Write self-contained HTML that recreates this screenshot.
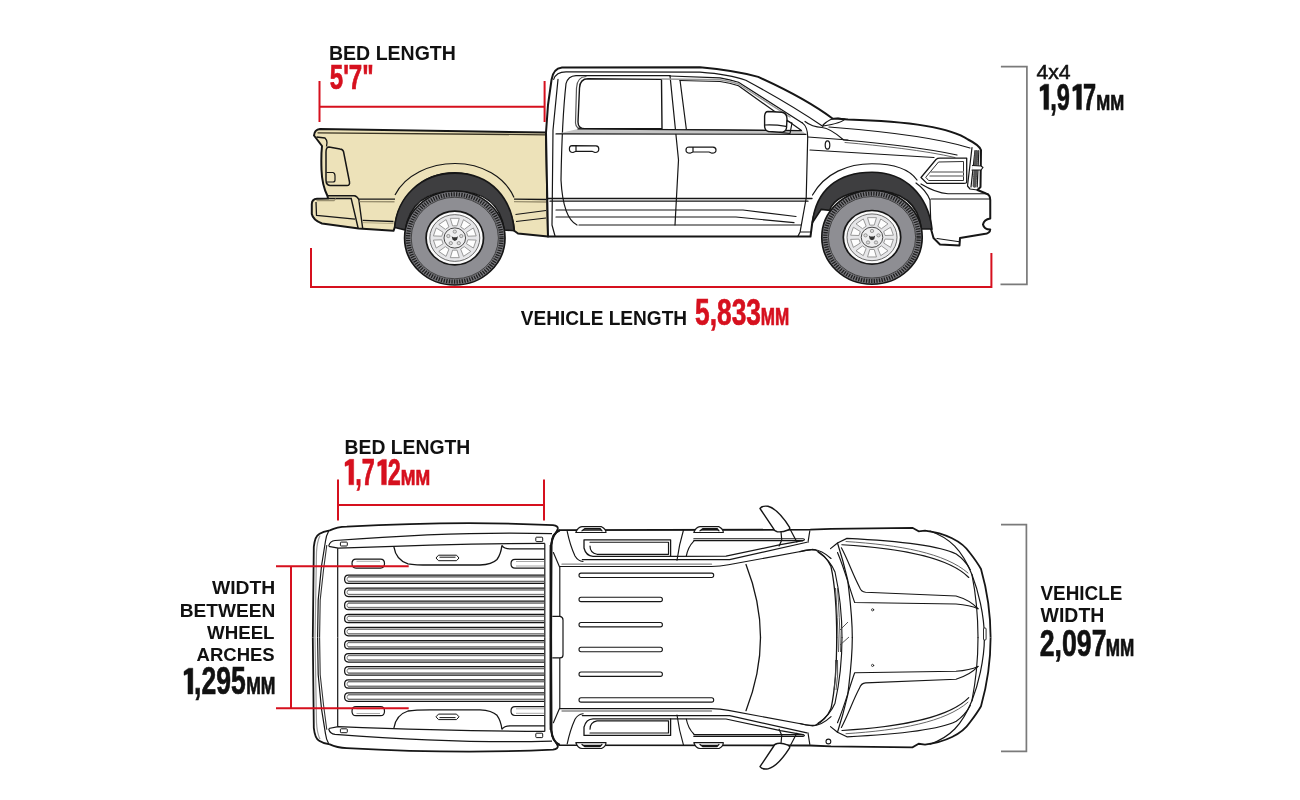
<!DOCTYPE html>
<html><head><meta charset="utf-8"><style>
html,body{margin:0;padding:0;background:#fff;width:1300px;height:800px;overflow:hidden}
svg{display:block;will-change:transform}
text{font-family:"Liberation Sans", sans-serif;font-kerning:none}
</style></head><body>
<svg width="1300" height="800" viewBox="0 0 1300 800">
<rect width="1300" height="800" fill="#fff"/>
<text x="328.99" y="59.60" font-size="20.06" font-weight="bold" textLength="126.92" lengthAdjust="spacingAndGlyphs" fill="#111" >BED LENGTH</text>
<text x="329.76" y="88.50" font-size="34.74" font-weight="bold" textLength="43.93" lengthAdjust="spacingAndGlyphs" fill="#d6101e" stroke="#d6101e" stroke-width="0.7">5'7"</text>
<text x="1036.41" y="78.80" font-size="19.48" font-weight="normal" textLength="34.21" lengthAdjust="spacingAndGlyphs" fill="#111" stroke="#111" stroke-width="0.5">4x4</text>
<path d="M1044.58,84.20 L1048.67,84.20 L1048.67,109.60 L1043.88,109.60 L1043.88,89.78 L1040.40,91.17 Q1040.00,91.27 1040.00,90.77 L1040.00,87.79 Q1040.00,87.19 1040.60,86.89 Z" fill="#111" stroke="#111" stroke-width="0.42" stroke-linejoin="round"/>
<path d="M1077.35,84.20 L1081.44,84.20 L1081.44,109.60 L1076.66,109.60 L1076.66,89.78 L1073.17,91.17 Q1072.77,91.27 1072.77,90.77 L1072.77,87.79 Q1072.77,87.19 1073.37,86.89 Z" fill="#111" stroke="#111" stroke-width="0.42" stroke-linejoin="round"/><text x="1050.20" y="109.60" font-size="36.92" font-weight="bold" textLength="45.83" lengthAdjust="spacingAndGlyphs" fill="#111" stroke="#111" stroke-width="0.7">,9 7</text>
<text x="1096.18" y="109.60" font-size="22.97" font-weight="bold" textLength="27.94" lengthAdjust="spacingAndGlyphs" fill="#111" stroke="#111" stroke-width="0.7">MM</text>
<text x="520.77" y="324.50" font-size="19.62" font-weight="bold" textLength="166.32" lengthAdjust="spacingAndGlyphs" fill="#111" >VEHICLE LENGTH</text>
<text x="695.09" y="324.60" font-size="37.79" font-weight="bold" textLength="65.86" lengthAdjust="spacingAndGlyphs" fill="#d6101e" stroke="#d6101e" stroke-width="0.7">5,833</text>
<text x="760.86" y="324.60" font-size="23.40" font-weight="bold" textLength="28.49" lengthAdjust="spacingAndGlyphs" fill="#d6101e" stroke="#d6101e" stroke-width="0.7">MM</text>
<text x="344.51" y="453.70" font-size="20.20" font-weight="bold" textLength="125.80" lengthAdjust="spacingAndGlyphs" fill="#111" >BED LENGTH</text>
<path d="M349.60,459.30 L353.70,459.30 L353.70,484.80 L348.90,484.80 L348.90,464.90 L345.40,466.30 Q345.00,466.40 345.00,465.90 L345.00,462.90 Q345.00,462.30 345.60,462.00 Z" fill="#d6101e" stroke="#d6101e" stroke-width="0.42" stroke-linejoin="round"/>
<path d="M382.30,459.40 L386.38,459.40 L386.38,484.80 L381.60,484.80 L381.60,464.98 L378.12,466.37 Q377.72,466.47 377.72,465.97 L377.72,462.99 Q377.72,462.39 378.32,462.09 Z" fill="#d6101e" stroke="#d6101e" stroke-width="0.42" stroke-linejoin="round"/><text x="355.21" y="484.80" font-size="36.92" font-weight="bold" textLength="45.74" lengthAdjust="spacingAndGlyphs" fill="#d6101e" stroke="#d6101e" stroke-width="0.7">,7 2</text>
<text x="400.82" y="484.80" font-size="22.67" font-weight="bold" textLength="29.36" lengthAdjust="spacingAndGlyphs" fill="#d6101e" stroke="#d6101e" stroke-width="0.7">MM</text>
<text x="211.98" y="594.00" font-size="18.90" font-weight="bold" textLength="63.32" lengthAdjust="spacingAndGlyphs" fill="#111" >WIDTH</text>
<text x="179.72" y="616.60" font-size="18.31" font-weight="bold" textLength="95.57" lengthAdjust="spacingAndGlyphs" fill="#111" >BETWEEN</text>
<text x="206.98" y="639.00" font-size="18.90" font-weight="bold" textLength="67.59" lengthAdjust="spacingAndGlyphs" fill="#111" >WHEEL</text>
<text x="196.54" y="661.00" font-size="18.90" font-weight="bold" textLength="78.18" lengthAdjust="spacingAndGlyphs" fill="#111" >ARCHES</text>
<path d="M188.65,668.20 L192.80,668.20 L192.80,694.00 L187.95,694.00 L187.95,673.87 L184.40,675.28 Q184.00,675.38 184.00,674.88 L184.00,671.84 Q184.00,671.24 184.61,670.93 Z" fill="#111" stroke="#111" stroke-width="0.42" stroke-linejoin="round"/>
<text x="194.10" y="694.20" font-size="37.94" font-weight="bold" textLength="51.64" lengthAdjust="spacingAndGlyphs" fill="#111" stroke="#111" stroke-width="0.7">,295</text>
<text x="246.13" y="694.20" font-size="23.98" font-weight="bold" textLength="29.25" lengthAdjust="spacingAndGlyphs" fill="#111" stroke="#111" stroke-width="0.7">MM</text>
<text x="1040.47" y="599.60" font-size="19.77" font-weight="bold" textLength="81.87" lengthAdjust="spacingAndGlyphs" fill="#111" >VEHICLE</text>
<text x="1040.58" y="622.00" font-size="19.33" font-weight="bold" textLength="63.73" lengthAdjust="spacingAndGlyphs" fill="#111" >WIDTH</text>
<text x="1039.78" y="655.70" font-size="37.65" font-weight="bold" textLength="66.70" lengthAdjust="spacingAndGlyphs" fill="#111" stroke="#111" stroke-width="0.7">2,097</text>
<text x="1105.76" y="655.70" font-size="23.55" font-weight="bold" textLength="28.49" lengthAdjust="spacingAndGlyphs" fill="#111" stroke="#111" stroke-width="0.7">MM</text>
<path d="M314,135.5 Q314.5,129.5 320,129 L546,132.5 L548,236.5 L518,233.5 L514.2,230.7 C512,205 490,174 455,173 C420,173 398,200 394.7,227.5 L393.5,230.8 L358.8,228.5 L322,223.5 Q313,220 311.8,214 L311.8,204 Q312,199 317,198.8 L328,198.5 L327.5,196 Q322,185 321.5,170 Q321,155 322,146 Q319,142 314,135.5 Z" fill="#ede2b9" stroke="#161616" stroke-width="2" stroke-linejoin="round"/>
<g fill="none" stroke="#161616" stroke-width="1.2" stroke-linejoin="round">
<path d="M317.5,132.8 Q330,133 546,134.8" stroke="#3a3424" stroke-width="1.3"/><path d="M316.5,137 L325,138 Q327,140 327,142.5 L326.5,146.5" stroke-width="1.3"/>
<path d="M329,147 Q326,147 326,152 L326,180 Q326,185 330,185.5 L347,185.5 Q350,185.5 349.5,182 L343.5,151.5 Q343,149.4 340,149 Z" stroke-width="1.5"/>
<path d="M326.5,172.5 L333,172.5 Q335,173 335,176 L335,180 Q335,182 333,182 L327,182"/>
<path d="M328,198.5 L351.9,198.5 M327.5,195.8 L354.2,195.8 Q357,196 358.8,199.5 L362.7,228.5 M351.2,198.5 L358.1,228" stroke-width="1.4"/>
<path d="M358.8,199.2 L395,199.2" stroke-width="1.3"/><path d="M359.5,201.6 L394.5,201.8" stroke="#9a9070" stroke-width="1.4"/>
<path d="M362.7,220.4 L393.5,221.5" stroke-width="1.3"/><path d="M363,222.6 L393.5,223.6" stroke="#b5ab85" stroke-width="1"/>
<path d="M316,202 L316.5,215.4 L355,219.2" stroke-width="1.3"/>
<path d="M316.5,200.6 L334,200.6 L335.8,198.6" stroke="#9a9070" stroke-width="1.2"/>
<path d="M395,195 C405,175 430,163.5 455,163.5 C482,163.5 505,177 514,197.6"/>
<path d="M514,199.2 L546,199.5" stroke-width="1.3"/><path d="M514,201.7 L546,202" stroke="#9a9070" stroke-width="1.3"/>
<path d="M515.5,214.5 L546,210.5 M516,221.5 L546,218"/>
</g>
<path d="M394.7,227.5 C397,198 420,173.1 455,173.1 C492,173.1 512,200 514.2,230.7 L504.3,230 C500,200 480,191.2 454.8,191.2 C430,191.2 410,200 405.3,230 Z" fill="#3e3e40" stroke="#161616" stroke-width="1.6"/>
<path d="M546,132.5 L548,105 L551.5,80 Q553,68.5 562,67.5 L700,67.3 Q735,70.5 758.2,76.9 Q805,98 832.8,118.7 L838,118.8 L848,119.4 C905,121 950,127 968,139.5 Q979,145 981,150 L980.5,187 L977.5,190 L986,193.5 Q990.25,194.5 990.25,200 L990.25,218.5 Q984,219.5 983,224.5 Q984,229.5 990.25,229.5 Q990,233.5 984,234 L960,238 L959.5,245.5 L940,244.5 L933.5,238 L931,229 C926,200 905,173 872,173 C840,173 817,195 812.3,222.5 L810.5,236.5 L548,236.5 Z" fill="#fff" stroke="#161616" stroke-width="2" stroke-linejoin="round"/>
<g fill="none" stroke="#161616" stroke-width="1.2" stroke-linejoin="round" stroke-linecap="round">
<path d="M553.7,79.4 Q556,72 566,71.9 L700,72.2 Q730,74.5 745.8,80.3 Q790,104 822.7,126.3"/>
<path d="M805,121.5 Q812,127 822,127.5 Q830,128 843.7,140 C880,143 925,148 957,155 M829,127 C880,131 935,137 970,148"/>
<path d="M845,142.5 C880,145.5 925,150.5 955,157.5" stroke="#555" stroke-width="0.9"/>
<path d="M558,79.4 L553,130 L552,225 L555,236"/>
<path d="M566,83.7 Q568,76 576,75.6 L670,75.6 M566,83.7 Q562,120 561,180 Q563,218 577,225"/>
<path d="M588,78.8 Q580,78.8 579.5,88 L578,122 Q578,128.7 585,128.7 L662,128.7 L661.5,79.4 Z" stroke-width="1.4"/>
<path d="M586,76.5 Q577,77 576.5,88 L575.5,123 Q576,128.9 582,128.9" stroke="#555"/>
<path d="M670,75.6 L678.5,160 L675,225"/>
<path d="M680,80 L686.5,130.5"/>
<path d="M680,80.5 L720,81.5 Q730,83 738.5,85.8 L801.5,130.6 L686,129.6"/>
<path d="M670,76 L720,77.8 Q730,79.5 738.5,82.2 L802.4,122.9"/><path d="M662,79 L720,79.7 Q730,81.2 738.5,84 L790,117" stroke="#999" stroke-width="1.4"/>
<path d="M802.4,122.9 Q807.7,127 807.7,137 L806.2,198 L800.1,231.9 L797.8,236.5 M800.1,232 L810.5,232"/>
<path d="M578,128.9 L801.5,130.6 L806,134.3 L556,133.9 Z" fill="#c4c4c4" stroke="none"/>
<path d="M556,133.9 L806,134.3 M578,128.9 L801.5,130.6 M808,137 L848,140"/>
<path d="M810,150 L934,157.5"/>
<path d="M572,145.6 L596,145.8 Q598.8,146 598.8,149 Q598.8,152.5 595,152.5 L592,151.3 L576,151.3 L573,152.5 Q569.4,152.5 569.4,149 Q569.4,145.6 572,145.6 Z M576,145.7 L576,151.3"/>
<path d="M689,147 L713,147.2 Q716,147.5 716,150 Q716,153.2 712,153.2 L709,152 L693,152 L690,153.2 Q686,153.2 686,150 Q686,147 689,147 Z M693,147.2 L693,152"/>
<path d="M768,111.5 L782,112.2 Q787,113 787,119 L786.5,128 Q786,132.3 780,132.3 L768.5,131.5 Q764.6,130.5 764.6,126 L764.6,116 Q765,111.5 768,111.5 Z" fill="#fff" stroke-width="1.4"/>
<path d="M765,125 Q775,124.5 786,126.3 M787,121 L792,123 L790,133.5 L780,132.3"/>
<path d="M548,198.5 L812,198.5 M550,201.2 L808,201.2" stroke-width="1.3"/>
<path d="M556,210 L743,210 L796,216.5 M556,217 L736,217 L794,222.7 M579,225 L800.8,225"/>
<ellipse cx="827.5" cy="145" rx="2.3" ry="4.2"/>
<path d="M823,125 Q830,118 838,118 L845,119 Q842,123 823,126 Z"/>
<path d="M812.5,195 C825,173 848,163.75 872,163.75 C895,163.75 910,170 917,180"/>
<path d="M921,177.5 L936,159.5 Q937.4,158.2 940,158.2 L966.7,158.2 L966.7,182 Q966.5,183.4 964,183.4 L927,183.4 Z" stroke-width="1.3"/>
<path d="M926,177 L938.5,162 L963.5,161.5 L963.5,180.5 L929,180.5 Z" stroke-width="0.9"/>
<path d="M931,172 L963.5,172 M930,176 L963.5,176" stroke="#888" stroke-width="1.4"/>
<path d="M972,147.5 L967.5,186 L970,189 L977.5,190 M975,150.5 L971,187 M978.8,150.5 L977.2,187" stroke-width="1.2"/>
<path d="M976.5,152 L974.5,186" stroke="#555" stroke-width="4" stroke-dasharray="0.8 1.4"/>
<path d="M972.5,165.5 L981,166 L983,167.5 L981,170 L972,170" fill="#fff" stroke-width="1.1"/>
<path d="M916,183 Q926,190 930,200 L931,229 M921,184 Q936,193 948,193.75 L988,193.75 M931,199 L990,199 M937,238.5 L959.5,241.75"/>
</g>
<path d="M812.5,222.5 C816,190 838,172.3 872,172.3 C905,172.3 928,195 932,229 L921.4,229 C918,200 898,190.6 872,190.6 C848,190.6 833,200 829.7,210.3 L821.2,209.4 Z" fill="#3e3e40" stroke="#161616" stroke-width="1.6"/>
<g transform="translate(454.8,238) scale(1,0.935)"><circle r="50.2" fill="#7a7a7f" stroke="#161616" stroke-width="1.7"/><circle r="46.7" fill="none" stroke="#1e1e1e" stroke-width="4.4" stroke-dasharray="1.3 1.3"/><circle r="43.6" fill="#8e8e93" stroke="#3a3a3a" stroke-width="0.9"/><circle r="28.7" fill="#fafafa" stroke="#161616" stroke-width="1.7"/><circle r="25" fill="#e6e6e8" stroke="#555" stroke-width="0.9"/><path d="M-2.23,-13.01 L-4.48,-21.03 L4.48,-21.03 L2.23,-13.01Z" fill="#fdfdfd" stroke="#8a8a8a" stroke-width="0.9" stroke-linejoin="round"/><path d="M5.84,-11.84 L8.73,-19.65 L15.99,-14.38 L9.45,-9.21Z" fill="#fdfdfd" stroke="#8a8a8a" stroke-width="0.9" stroke-linejoin="round"/><path d="M11.68,-6.14 L18.61,-10.76 L21.38,-2.24 L13.06,-1.90Z" fill="#fdfdfd" stroke="#8a8a8a" stroke-width="0.9" stroke-linejoin="round"/><path d="M13.06,1.90 L21.38,2.24 L18.61,10.76 L11.68,6.14Z" fill="#fdfdfd" stroke="#8a8a8a" stroke-width="0.9" stroke-linejoin="round"/><path d="M9.45,9.21 L15.99,14.38 L8.73,19.65 L5.84,11.84Z" fill="#fdfdfd" stroke="#8a8a8a" stroke-width="0.9" stroke-linejoin="round"/><path d="M2.23,13.01 L4.48,21.03 L-4.48,21.03 L-2.23,13.01Z" fill="#fdfdfd" stroke="#8a8a8a" stroke-width="0.9" stroke-linejoin="round"/><path d="M-5.84,11.84 L-8.73,19.65 L-15.99,14.38 L-9.45,9.21Z" fill="#fdfdfd" stroke="#8a8a8a" stroke-width="0.9" stroke-linejoin="round"/><path d="M-11.68,6.14 L-18.61,10.76 L-21.38,2.24 L-13.06,1.90Z" fill="#fdfdfd" stroke="#8a8a8a" stroke-width="0.9" stroke-linejoin="round"/><path d="M-13.06,-1.90 L-21.38,-2.24 L-18.61,-10.76 L-11.68,-6.14Z" fill="#fdfdfd" stroke="#8a8a8a" stroke-width="0.9" stroke-linejoin="round"/><path d="M-9.45,-9.21 L-15.99,-14.38 L-8.73,-19.65 L-5.84,-11.84Z" fill="#fdfdfd" stroke="#8a8a8a" stroke-width="0.9" stroke-linejoin="round"/><circle r="10.8" fill="#eeeeef" stroke="#444" stroke-width="1"/><circle cx="0.00" cy="-6.80" r="1.7" fill="#ddd" stroke="#777" stroke-width="0.7"/><circle cx="6.47" cy="-2.10" r="1.7" fill="#ddd" stroke="#777" stroke-width="0.7"/><circle cx="4.00" cy="5.50" r="1.7" fill="#ddd" stroke="#777" stroke-width="0.7"/><circle cx="-4.00" cy="5.50" r="1.7" fill="#ddd" stroke="#777" stroke-width="0.7"/><circle cx="-6.47" cy="-2.10" r="1.7" fill="#ddd" stroke="#777" stroke-width="0.7"/><path d="M-3.2,-2 Q0,0.5 3.2,-2 L2.2,2 L0,3.2 L-2.2,2 Z" fill="#333"/></g>
<g transform="translate(872,237.3) scale(1,0.935)"><circle r="50.2" fill="#7a7a7f" stroke="#161616" stroke-width="1.7"/><circle r="46.7" fill="none" stroke="#1e1e1e" stroke-width="4.4" stroke-dasharray="1.3 1.3"/><circle r="43.6" fill="#8e8e93" stroke="#3a3a3a" stroke-width="0.9"/><circle r="28.7" fill="#fafafa" stroke="#161616" stroke-width="1.7"/><circle r="25" fill="#e6e6e8" stroke="#555" stroke-width="0.9"/><path d="M-2.23,-13.01 L-4.48,-21.03 L4.48,-21.03 L2.23,-13.01Z" fill="#fdfdfd" stroke="#8a8a8a" stroke-width="0.9" stroke-linejoin="round"/><path d="M5.84,-11.84 L8.73,-19.65 L15.99,-14.38 L9.45,-9.21Z" fill="#fdfdfd" stroke="#8a8a8a" stroke-width="0.9" stroke-linejoin="round"/><path d="M11.68,-6.14 L18.61,-10.76 L21.38,-2.24 L13.06,-1.90Z" fill="#fdfdfd" stroke="#8a8a8a" stroke-width="0.9" stroke-linejoin="round"/><path d="M13.06,1.90 L21.38,2.24 L18.61,10.76 L11.68,6.14Z" fill="#fdfdfd" stroke="#8a8a8a" stroke-width="0.9" stroke-linejoin="round"/><path d="M9.45,9.21 L15.99,14.38 L8.73,19.65 L5.84,11.84Z" fill="#fdfdfd" stroke="#8a8a8a" stroke-width="0.9" stroke-linejoin="round"/><path d="M2.23,13.01 L4.48,21.03 L-4.48,21.03 L-2.23,13.01Z" fill="#fdfdfd" stroke="#8a8a8a" stroke-width="0.9" stroke-linejoin="round"/><path d="M-5.84,11.84 L-8.73,19.65 L-15.99,14.38 L-9.45,9.21Z" fill="#fdfdfd" stroke="#8a8a8a" stroke-width="0.9" stroke-linejoin="round"/><path d="M-11.68,6.14 L-18.61,10.76 L-21.38,2.24 L-13.06,1.90Z" fill="#fdfdfd" stroke="#8a8a8a" stroke-width="0.9" stroke-linejoin="round"/><path d="M-13.06,-1.90 L-21.38,-2.24 L-18.61,-10.76 L-11.68,-6.14Z" fill="#fdfdfd" stroke="#8a8a8a" stroke-width="0.9" stroke-linejoin="round"/><path d="M-9.45,-9.21 L-15.99,-14.38 L-8.73,-19.65 L-5.84,-11.84Z" fill="#fdfdfd" stroke="#8a8a8a" stroke-width="0.9" stroke-linejoin="round"/><circle r="10.8" fill="#eeeeef" stroke="#444" stroke-width="1"/><circle cx="0.00" cy="-6.80" r="1.7" fill="#ddd" stroke="#777" stroke-width="0.7"/><circle cx="6.47" cy="-2.10" r="1.7" fill="#ddd" stroke="#777" stroke-width="0.7"/><circle cx="4.00" cy="5.50" r="1.7" fill="#ddd" stroke="#777" stroke-width="0.7"/><circle cx="-4.00" cy="5.50" r="1.7" fill="#ddd" stroke="#777" stroke-width="0.7"/><circle cx="-6.47" cy="-2.10" r="1.7" fill="#ddd" stroke="#777" stroke-width="0.7"/><path d="M-3.2,-2 Q0,0.5 3.2,-2 L2.2,2 L0,3.2 L-2.2,2 Z" fill="#333"/></g>
<path d="M312.8,637.4 L313.8,546.9 Q315,536 319.1,534.1 Q323,531.5 329.8,530.4 Q337,527 346.8,526.7 Q460,520.5 553,525.2 Q558.5,526 557.7,529 L551.7,542.7 L550.8,550 L550.8,637.4" fill="#fff" stroke="none"/>
<g transform="matrix(1,0,0,-1,0,1274.8)"><path d="M312.8,637.4 L313.8,546.9 Q315,536 319.1,534.1 Q323,531.5 329.8,530.4 Q337,527 346.8,526.7 Q460,520.5 553,525.2 Q558.5,526 557.7,529 L551.7,542.7 L550.8,550 L550.8,637.4" fill="#fff" stroke="none"/></g>
<path d="M312.8,637.4 L313.8,546.9 Q315,536 319.1,534.1 Q323,531.5 329.8,530.4 Q337,527 346.8,526.7 Q460,520.5 553,525.2 Q558.5,526 557.7,529 L551.7,542.7 L550.8,550 L550.8,637.4" fill="none" stroke="#161616" stroke-width="1.8"/><g fill="none" stroke="#161616" stroke-width="1.2" stroke-linejoin="round"><path d="M328.7,531 Q326,536 325.5,541 L321.5,566 L318.2,600 L317.6,637.4"/><path d="M326.8,545 L323.5,570 L320.2,600 L319.6,637.4" stroke="#333" stroke-width="1.1"/><path d="M320,535.5 Q317,542 316.5,552 L315,637.4" stroke="#9a9a9a" stroke-width="1.2"/><path d="M328.7,545.8 Q330,541 335,540.5 Q460,531 552,533.7"/><path d="M328.7,546.3 L338.3,548.2 Q460,543.5 544.8,543.4"/><path d="M337.7,548.2 L337.7,637.4 M544.8,543.4 L544.8,637.4"/><path d="M550.5,545 L550.5,637.4" stroke-width="1.8"/><rect x="340.4" y="542.1" width="6.9" height="3.9" rx="0.8" stroke-width="1"/><rect x="535.8" y="537.2" width="6.9" height="4.4" rx="0.8" stroke-width="1"/><path d="M393.9,546.8 Q396,560 408,563.8 Q415,565 430,565 L480,565 Q492,564.5 497,559.5 Q501,554 501.9,545.4 M501.9,545.4 Q504,548.9 510,548.9 L544.8,548.9" stroke-width="1.3"/><path d="M438.5,555.2 L456.5,555.2 L459,558 L456.5,560.7 L438.5,560.7 L436,558 Z M439.5,557.2 L455.5,557.2" stroke-width="1"/><path d="M356,559.1 L380.5,559.1 Q384.5,559.1 384.5,563.6 Q384.5,568.1 380.5,568.1 L356,568.1 Q352,568.1 352,563.6 Q352,559.1 356,559.1 Z" fill="#fff"/><path d="M356.5,561.3 L380,561.3 M356.5,566 L380,566" stroke="#aaa" stroke-width="1"/><path d="M544.1,559.3 L515,559.3 Q511,559.3 511,563.7 Q511,568.1 515,568.1 L544.1,568.1" fill="#fff"/><path d="M544,561.5 L516,561.5 M544,566 L516,566" stroke="#aaa" stroke-width="1"/></g>
<g transform="matrix(1,0,0,-1,0,1274.8)"><path d="M312.8,637.4 L313.8,546.9 Q315,536 319.1,534.1 Q323,531.5 329.8,530.4 Q337,527 346.8,526.7 Q460,520.5 553,525.2 Q558.5,526 557.7,529 L551.7,542.7 L550.8,550 L550.8,637.4" fill="none" stroke="#161616" stroke-width="1.8"/><g fill="none" stroke="#161616" stroke-width="1.2" stroke-linejoin="round"><path d="M328.7,531 Q326,536 325.5,541 L321.5,566 L318.2,600 L317.6,637.4"/><path d="M326.8,545 L323.5,570 L320.2,600 L319.6,637.4" stroke="#333" stroke-width="1.1"/><path d="M320,535.5 Q317,542 316.5,552 L315,637.4" stroke="#9a9a9a" stroke-width="1.2"/><path d="M328.7,545.8 Q330,541 335,540.5 Q460,531 552,533.7"/><path d="M328.7,546.3 L338.3,548.2 Q460,543.5 544.8,543.4"/><path d="M337.7,548.2 L337.7,637.4 M544.8,543.4 L544.8,637.4"/><path d="M550.5,545 L550.5,637.4" stroke-width="1.8"/><rect x="340.4" y="542.1" width="6.9" height="3.9" rx="0.8" stroke-width="1"/><rect x="535.8" y="537.2" width="6.9" height="4.4" rx="0.8" stroke-width="1"/><path d="M393.9,546.8 Q396,560 408,563.8 Q415,565 430,565 L480,565 Q492,564.5 497,559.5 Q501,554 501.9,545.4 M501.9,545.4 Q504,548.9 510,548.9 L544.8,548.9" stroke-width="1.3"/><path d="M438.5,555.2 L456.5,555.2 L459,558 L456.5,560.7 L438.5,560.7 L436,558 Z M439.5,557.2 L455.5,557.2" stroke-width="1"/><path d="M356,559.1 L380.5,559.1 Q384.5,559.1 384.5,563.6 Q384.5,568.1 380.5,568.1 L356,568.1 Q352,568.1 352,563.6 Q352,559.1 356,559.1 Z" fill="#fff"/><path d="M356.5,561.3 L380,561.3 M356.5,566 L380,566" stroke="#aaa" stroke-width="1"/><path d="M544.1,559.3 L515,559.3 Q511,559.3 511,563.7 Q511,568.1 515,568.1 L544.1,568.1" fill="#fff"/><path d="M544,561.5 L516,561.5 M544,566 L516,566" stroke="#aaa" stroke-width="1"/></g></g>
<g fill="none">
<path d="M544.1,576.90 L348,576.90 M544.1,581.40 L348,581.40" stroke="#a8a8a8" stroke-width="1.6"/>
<path d="M544.1,575.00 L348.3,575.00 Q344.6,575.00 344.6,579.20 Q344.6,583.40 348.3,583.40 L544.1,583.40" stroke="#161616" stroke-width="1.25"/>
<path d="M544.1,576.80 L349,576.80 Q347,577.00 347,579.20 Q347,581.40 349,581.50 L544.1,581.50" stroke="#555" stroke-width="0.7"/>
<path d="M544.1,590.00 L348,590.00 M544.1,594.50 L348,594.50" stroke="#a8a8a8" stroke-width="1.6"/>
<path d="M544.1,588.10 L348.3,588.10 Q344.6,588.10 344.6,592.30 Q344.6,596.50 348.3,596.50 L544.1,596.50" stroke="#161616" stroke-width="1.25"/>
<path d="M544.1,589.90 L349,589.90 Q347,590.10 347,592.30 Q347,594.50 349,594.60 L544.1,594.60" stroke="#555" stroke-width="0.7"/>
<path d="M544.1,603.10 L348,603.10 M544.1,607.60 L348,607.60" stroke="#a8a8a8" stroke-width="1.6"/>
<path d="M544.1,601.20 L348.3,601.20 Q344.6,601.20 344.6,605.40 Q344.6,609.60 348.3,609.60 L544.1,609.60" stroke="#161616" stroke-width="1.25"/>
<path d="M544.1,603.00 L349,603.00 Q347,603.20 347,605.40 Q347,607.60 349,607.70 L544.1,607.70" stroke="#555" stroke-width="0.7"/>
<path d="M544.1,616.20 L348,616.20 M544.1,620.70 L348,620.70" stroke="#a8a8a8" stroke-width="1.6"/>
<path d="M544.1,614.30 L348.3,614.30 Q344.6,614.30 344.6,618.50 Q344.6,622.70 348.3,622.70 L544.1,622.70" stroke="#161616" stroke-width="1.25"/>
<path d="M544.1,616.10 L349,616.10 Q347,616.30 347,618.50 Q347,620.70 349,620.80 L544.1,620.80" stroke="#555" stroke-width="0.7"/>
<path d="M544.1,629.30 L348,629.30 M544.1,633.80 L348,633.80" stroke="#a8a8a8" stroke-width="1.6"/>
<path d="M544.1,627.40 L348.3,627.40 Q344.6,627.40 344.6,631.60 Q344.6,635.80 348.3,635.80 L544.1,635.80" stroke="#161616" stroke-width="1.25"/>
<path d="M544.1,629.20 L349,629.20 Q347,629.40 347,631.60 Q347,633.80 349,633.90 L544.1,633.90" stroke="#555" stroke-width="0.7"/>
<path d="M544.1,642.40 L348,642.40 M544.1,646.90 L348,646.90" stroke="#a8a8a8" stroke-width="1.6"/>
<path d="M544.1,640.50 L348.3,640.50 Q344.6,640.50 344.6,644.70 Q344.6,648.90 348.3,648.90 L544.1,648.90" stroke="#161616" stroke-width="1.25"/>
<path d="M544.1,642.30 L349,642.30 Q347,642.50 347,644.70 Q347,646.90 349,647.00 L544.1,647.00" stroke="#555" stroke-width="0.7"/>
<path d="M544.1,655.50 L348,655.50 M544.1,660.00 L348,660.00" stroke="#a8a8a8" stroke-width="1.6"/>
<path d="M544.1,653.60 L348.3,653.60 Q344.6,653.60 344.6,657.80 Q344.6,662.00 348.3,662.00 L544.1,662.00" stroke="#161616" stroke-width="1.25"/>
<path d="M544.1,655.40 L349,655.40 Q347,655.60 347,657.80 Q347,660.00 349,660.10 L544.1,660.10" stroke="#555" stroke-width="0.7"/>
<path d="M544.1,668.60 L348,668.60 M544.1,673.10 L348,673.10" stroke="#a8a8a8" stroke-width="1.6"/>
<path d="M544.1,666.70 L348.3,666.70 Q344.6,666.70 344.6,670.90 Q344.6,675.10 348.3,675.10 L544.1,675.10" stroke="#161616" stroke-width="1.25"/>
<path d="M544.1,668.50 L349,668.50 Q347,668.70 347,670.90 Q347,673.10 349,673.20 L544.1,673.20" stroke="#555" stroke-width="0.7"/>
<path d="M544.1,681.70 L348,681.70 M544.1,686.20 L348,686.20" stroke="#a8a8a8" stroke-width="1.6"/>
<path d="M544.1,679.80 L348.3,679.80 Q344.6,679.80 344.6,684.00 Q344.6,688.20 348.3,688.20 L544.1,688.20" stroke="#161616" stroke-width="1.25"/>
<path d="M544.1,681.60 L349,681.60 Q347,681.80 347,684.00 Q347,686.20 349,686.30 L544.1,686.30" stroke="#555" stroke-width="0.7"/>
<path d="M544.1,694.80 L348,694.80 M544.1,699.30 L348,699.30" stroke="#a8a8a8" stroke-width="1.6"/>
<path d="M544.1,692.90 L348.3,692.90 Q344.6,692.90 344.6,697.10 Q344.6,701.30 348.3,701.30 L544.1,701.30" stroke="#161616" stroke-width="1.25"/>
<path d="M544.1,694.70 L349,694.70 Q347,694.90 347,697.10 Q347,699.30 349,699.40 L544.1,699.40" stroke="#555" stroke-width="0.7"/>
</g>
<path d="M551,637.6 L551.3,545 Q552.3,533 559.8,530.1 L810.3,529.7 L831,528.8 L912.5,527.8 L918.75,531.4 L925,530.6 C945,533 962,541 970,553 Q977,562 981,569 C987,590 990.6,615 990.6,637.6" fill="#fff" stroke="none"/>
<g transform="matrix(1,0,0,-1,0,1275.2)"><path d="M551,637.6 L551.3,545 Q552.3,533 559.8,530.1 L810.3,529.7 L831,528.8 L912.5,527.8 L918.75,531.4 L925,530.6 C945,533 962,541 970,553 Q977,562 981,569 C987,590 990.6,615 990.6,637.6" fill="#fff" stroke="none"/></g>
<path d="M551,637.6 L551.3,545 Q552.3,533 559.8,530.1 L810.3,529.7 L831,528.8 L912.5,527.8 L918.75,531.4 L925,530.6 C945,533 962,541 970,553 Q977,562 981,569 C987,590 990.6,615 990.6,637.6" fill="none" stroke="#161616" stroke-width="1.8"/><g fill="none" stroke="#161616" stroke-width="1.15" stroke-linejoin="round" stroke-linecap="round"><path d="M567.2,531.3 Q570,545 575,556 Q578,561 583,561.5" /><path d="M553.4,552.5 L559.8,567.4 L559.8,637.6"/><path d="M559.8,566.5 L711.5,566.5 Q720,566.5 728.5,564.8 L812.7,549.2 Q822,550 831,558.5"/><path d="M562,564.2 L711.5,564.2" stroke="#8a8a8a" stroke-width="1.3"/><path d="M584,539.8 L670.6,539.8 L670.6,556.3 L593,556.3 Q586,556 584,548 Z" stroke-width="1.3"/><path d="M590,542.2 L668.5,542.2 L668.5,554.3 L597,554.3 Q590,553 590,546"/><path d="M693.8,538.8 L803,538.8 Q806,539.6 803,540.6 L693.8,540.6" stroke-width="1.1"/><path d="M693.8,541.2 Q688,547 686.3,556.2"/><path d="M670.6,556.3 L726,556.2 L780.4,544.6 L803,540.6" stroke-width="1.2"/><path d="M582.3,559.6 L729.6,559.6 L806.9,542.3"/><path d="M683.5,530 Q679,545 677,560.2"/><path d="M809.8,530.8 L808,542.3"/><path d="M575.8,532.5 L606,532.5 Q606,529 601.5,526.7 L582,526.7 Q578,527 575.8,532.5 Z M582,530.8 L585,528.5 L600,528.5 L602,530.8" fill="#fff" stroke-width="1.2"/><path d="M693.8,532.5 L723.3,532.5 Q723.3,529 719,526.7 L700,526.7 Q696,527 693.8,532.5 Z M700,530.8 L703,528.5 L717,528.5 L719,530.8" fill="#fff" stroke-width="1.2"/><path d="M760,508.5 Q762,505.5 768,506.3 Q778,509 789.6,527.3 Q790,529.5 788,530 Q782,532.5 777.3,531.7 Q774,531 773.5,528.7 Z" fill="#fff" stroke-width="1.4"/><path d="M781,531.75 L781.75,540 L779.1,546 M790,529 L796.8,541.9" stroke-width="1.2"/><path d="M746,564.5 C754,585 760.5,610 760.5,637.6" stroke-width="1.3"/><path d="M800,551.7 Q808,549 815.6,550 Q826,555 831,566.6 C835,585 836.7,610 836.7,637.6" stroke-width="1.3"/><path d="M818,552 Q830,560 835,572 C839,590 842,612 842,637.6"/><path d="M830.5,548.6 L837.5,543 L846.9,538.4 C900,541 940,546 956.25,554 Q965,560 970.3,569.7" stroke-width="1.2"/><path d="M837.5,543 Q843,560 847.7,580 C850,600 852.3,615 852.3,637.6" stroke-width="1.2"/><path d="M842,544.7 C900,548 950,558 968.75,577.5" /><path d="M846,541.5 C900,545 945,553 968,573" stroke="#555" stroke-width="0.9"/><path d="M841.4,547.8 C848,560 853,575 859.4,586.9 Q861,592 865.6,592.3 L956,596 Q970,600 978,608.75"/><path d="M837.5,552.5 C845,570 850,590 854.7,602.5 L956,604 Q970,605 978,608.75"/><circle cx="872.6" cy="609.8" r="1.1" stroke-width="0.8"/><path d="M930,531 C950,538 962,550 971.9,574.4 C978,590 984.4,615 984.4,637.6" stroke-width="1.2"/><path d="M971.9,574.4 C976,595 978,615 978,637.6"/></g>
<g transform="matrix(1,0,0,-1,0,1275.2)"><path d="M551,637.6 L551.3,545 Q552.3,533 559.8,530.1 L810.3,529.7 L831,528.8 L912.5,527.8 L918.75,531.4 L925,530.6 C945,533 962,541 970,553 Q977,562 981,569 C987,590 990.6,615 990.6,637.6" fill="none" stroke="#161616" stroke-width="1.8"/><g fill="none" stroke="#161616" stroke-width="1.15" stroke-linejoin="round" stroke-linecap="round"><path d="M567.2,531.3 Q570,545 575,556 Q578,561 583,561.5" /><path d="M553.4,552.5 L559.8,567.4 L559.8,637.6"/><path d="M559.8,566.5 L711.5,566.5 Q720,566.5 728.5,564.8 L812.7,549.2 Q822,550 831,558.5"/><path d="M562,564.2 L711.5,564.2" stroke="#8a8a8a" stroke-width="1.3"/><path d="M584,539.8 L670.6,539.8 L670.6,556.3 L593,556.3 Q586,556 584,548 Z" stroke-width="1.3"/><path d="M590,542.2 L668.5,542.2 L668.5,554.3 L597,554.3 Q590,553 590,546"/><path d="M693.8,538.8 L803,538.8 Q806,539.6 803,540.6 L693.8,540.6" stroke-width="1.1"/><path d="M693.8,541.2 Q688,547 686.3,556.2"/><path d="M670.6,556.3 L726,556.2 L780.4,544.6 L803,540.6" stroke-width="1.2"/><path d="M582.3,559.6 L729.6,559.6 L806.9,542.3"/><path d="M683.5,530 Q679,545 677,560.2"/><path d="M809.8,530.8 L808,542.3"/><path d="M575.8,532.5 L606,532.5 Q606,529 601.5,526.7 L582,526.7 Q578,527 575.8,532.5 Z M582,530.8 L585,528.5 L600,528.5 L602,530.8" fill="#fff" stroke-width="1.2"/><path d="M693.8,532.5 L723.3,532.5 Q723.3,529 719,526.7 L700,526.7 Q696,527 693.8,532.5 Z M700,530.8 L703,528.5 L717,528.5 L719,530.8" fill="#fff" stroke-width="1.2"/><path d="M760,508.5 Q762,505.5 768,506.3 Q778,509 789.6,527.3 Q790,529.5 788,530 Q782,532.5 777.3,531.7 Q774,531 773.5,528.7 Z" fill="#fff" stroke-width="1.4"/><path d="M781,531.75 L781.75,540 L779.1,546 M790,529 L796.8,541.9" stroke-width="1.2"/><path d="M746,564.5 C754,585 760.5,610 760.5,637.6" stroke-width="1.3"/><path d="M800,551.7 Q808,549 815.6,550 Q826,555 831,566.6 C835,585 836.7,610 836.7,637.6" stroke-width="1.3"/><path d="M818,552 Q830,560 835,572 C839,590 842,612 842,637.6"/><path d="M830.5,548.6 L837.5,543 L846.9,538.4 C900,541 940,546 956.25,554 Q965,560 970.3,569.7" stroke-width="1.2"/><path d="M837.5,543 Q843,560 847.7,580 C850,600 852.3,615 852.3,637.6" stroke-width="1.2"/><path d="M842,544.7 C900,548 950,558 968.75,577.5" /><path d="M846,541.5 C900,545 945,553 968,573" stroke="#555" stroke-width="0.9"/><path d="M841.4,547.8 C848,560 853,575 859.4,586.9 Q861,592 865.6,592.3 L956,596 Q970,600 978,608.75"/><path d="M837.5,552.5 C845,570 850,590 854.7,602.5 L956,604 Q970,605 978,608.75"/><circle cx="872.6" cy="609.8" r="1.1" stroke-width="0.8"/><path d="M930,531 C950,538 962,550 971.9,574.4 C978,590 984.4,615 984.4,637.6" stroke-width="1.2"/><path d="M971.9,574.4 C976,595 978,615 978,637.6"/></g></g>
<g fill="none" stroke="#161616" stroke-width="1.1">
<path d="M581,573.1 L711.7,573.1 Q713.7,573.1 713.7,575.3 Q713.7,577.5 711.7,577.5 L581,577.5 Q579,577.5 579,575.3 Q579,573.1 581,573.1 Z"/>
<path d="M581,597.2 L660.4,597.2 Q662.4,597.2 662.4,599.4 Q662.4,601.6 660.4,601.6 L581,601.6 Q579,601.6 579,599.4 Q579,597.2 581,597.2 Z"/>
<path d="M581,622.5 L660.4,622.5 Q662.4,622.5 662.4,624.7 Q662.4,626.9 660.4,626.9 L581,626.9 Q579,626.9 579,624.7 Q579,622.5 581,622.5 Z"/>
<path d="M581,647.3 L660.4,647.3 Q662.4,647.3 662.4,649.5 Q662.4,651.7 660.4,651.7 L581,651.7 Q579,651.7 579,649.5 Q579,647.3 581,647.3 Z"/>
<path d="M581,672.0 L660.4,672.0 Q662.4,672.0 662.4,674.2 Q662.4,676.4 660.4,676.4 L581,676.4 Q579,676.4 579,674.2 Q579,672.0 581,672.0 Z"/>
<path d="M581,697.7 L711.7,697.7 Q713.7,697.7 713.7,699.9 Q713.7,702.1 711.7,702.1 L581,702.1 Q579,702.1 579,699.9 Q579,697.7 581,697.7 Z"/>
</g>
<circle cx="828.4" cy="741.5" r="2.4" fill="none" stroke="#161616" stroke-width="1.1"/>
<g fill="none" stroke="#444" stroke-width="0.9"><path d="M835.5,588 Q837.5,615 838.5,652 M837.5,588 Q839.5,615 840.5,652"/><path d="M835.5,660 Q836.5,675 834,690 M837.5,660 Q838.5,675 836,690"/><path d="M840,630 L848,622 M840,645 L849,637"/></g>
<rect x="983.5" y="628" width="2.6" height="12" rx="1" fill="#fff" stroke="#161616" stroke-width="0.9"/>
<path d="M552.3,616.4 L560,616.4 Q563,617 563,620 L563,655 Q563,657.9 560,657.9 L552.3,657.9" fill="#fff" stroke="#161616" stroke-width="1.2"/>
<path d="M551,637.6 L551.3,545 Q552.3,533 559.8,530.1 M551,637.6 L551.3,730 Q552.3,742 559.8,745" fill="none" stroke="#161616" stroke-width="2.2"/>
<g stroke="#d6101e" stroke-width="2" fill="none">
<path d="M319.5,81 V122 M319.5,106.7 H544.6 M544.6,81 V122"/>
<path d="M311,248 V287 H991.4 V253"/>
<path d="M338,479.5 V520.5 M338,505 H544 M544,479.5 V520.5"/>
<path d="M276,566.3 H408.7 M276,708.2 H408.7 M291,566.3 V708.2"/>
</g>
<g stroke="#7a7a7a" stroke-width="1.7" fill="none">
<path d="M1000.9,66.6 H1026.9 V284.4 H1000.5"/>
<path d="M1001,524.6 H1026.4 V751.4 H1001"/>
</g>
</svg></body></html>
